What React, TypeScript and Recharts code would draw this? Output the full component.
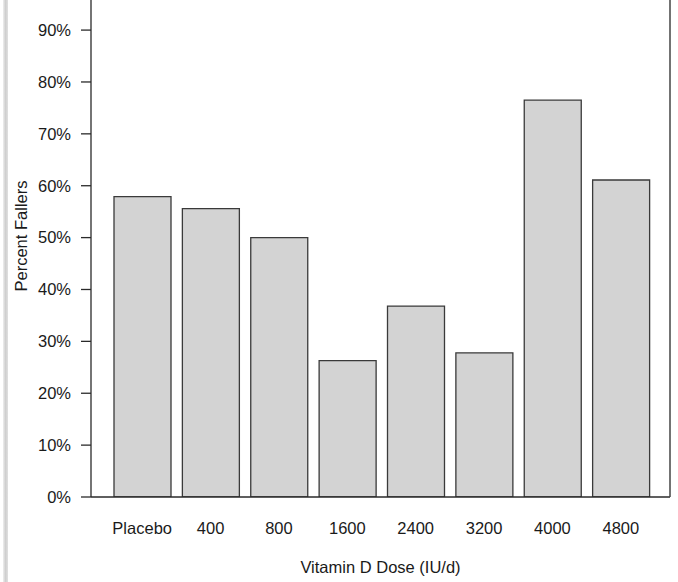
import React from 'react';
import { BarChart, Bar, XAxis, YAxis, Label } from 'recharts';

const doses = ['Placebo', '400', '800', '1600', '2400', '3200', '4000', '4800'];
const percentFallers = [57.9, 55.6, 50.0, 26.3, 36.8, 27.8, 76.5, 61.1];
const yTicks = [0, 10, 20, 30, 40, 50, 60, 70, 80, 90];

const data = doses.map((d, i) => ({ dose: d, pct: percentFallers[i] }));

const FONT = '"Liberation Sans", Arial, Helvetica, sans-serif';
const AXIS = '#2a2a2a';

export default function App() {
  return (
    <div style={{ position: 'absolute', left: 0, top: 0, width: 678, height: 582, background: '#fff' }}>
      <div
        style={{
          position: 'absolute',
          left: 3,
          top: 0,
          width: 5,
          height: 582,
          background: 'linear-gradient(to right, #eeeeee, #cfcfcf 50%, #e0e0e0)',
        }}
      />
      <BarChart
        width={678}
        height={582}
        data={data}
        margin={{ top: 0, right: 0, bottom: 0, left: 0 }}
        style={{ fontFamily: FONT }}
      >
        <XAxis
          dataKey="dose"
          height={85}
          interval={0}
          padding={{ left: 17, right: 15 }}
          tickLine={false}
          tickSize={0}
          tickMargin={25}
          axisLine={{ stroke: AXIS, strokeWidth: 1.3 }}
          tick={{ fontSize: 16.5, fill: '#1a1a1a', fontFamily: FONT }}
        >
          <Label
            content={(props: any) => {
              const vb = props.viewBox || {};
              const cx = (vb.x ?? 91) + (vb.width ?? 579) / 2;
              return (
                <text x={cx} y={573} textAnchor="middle" fontSize={16.5} fill="#1a1a1a" fontFamily={FONT}>
                  Vitamin D Dose (IU/d)
                </text>
              );
            }}
          />
        </XAxis>
        <YAxis
          yAxisId="left"
          width={91}
          domain={[0, 95.8]}
          ticks={yTicks}
          allowDataOverflow
          tickFormatter={(v: number) => `${v}%`}
          tickSize={10}
          tickMargin={10}
          tickLine={{ stroke: AXIS, strokeWidth: 1.3 }}
          axisLine={{ stroke: AXIS, strokeWidth: 1.3 }}
          tick={{ fontSize: 16.5, fill: '#1a1a1a', fontFamily: FONT }}
        >
          <Label
            content={() => (
              <text
                x={27}
                y={236}
                transform="rotate(-90 27 236)"
                textAnchor="middle"
                fontSize={16.5}
                fill="#1a1a1a"
                fontFamily={FONT}
              >
                Percent Fallers
              </text>
            )}
          />
        </YAxis>
        <YAxis
          yAxisId="right"
          orientation="right"
          width={8}
          domain={[0, 95.8]}
          tick={false}
          tickLine={false}
          axisLine={{ stroke: '#444', strokeWidth: 1.5 }}
        />
        <Bar
          yAxisId="left"
          dataKey="pct"
          barSize={57}
          fill="#d3d3d3"
          stroke="#3a3a3a"
          strokeWidth={1.3}
          isAnimationActive={false}
        />
      </BarChart>
    </div>
  );
}
